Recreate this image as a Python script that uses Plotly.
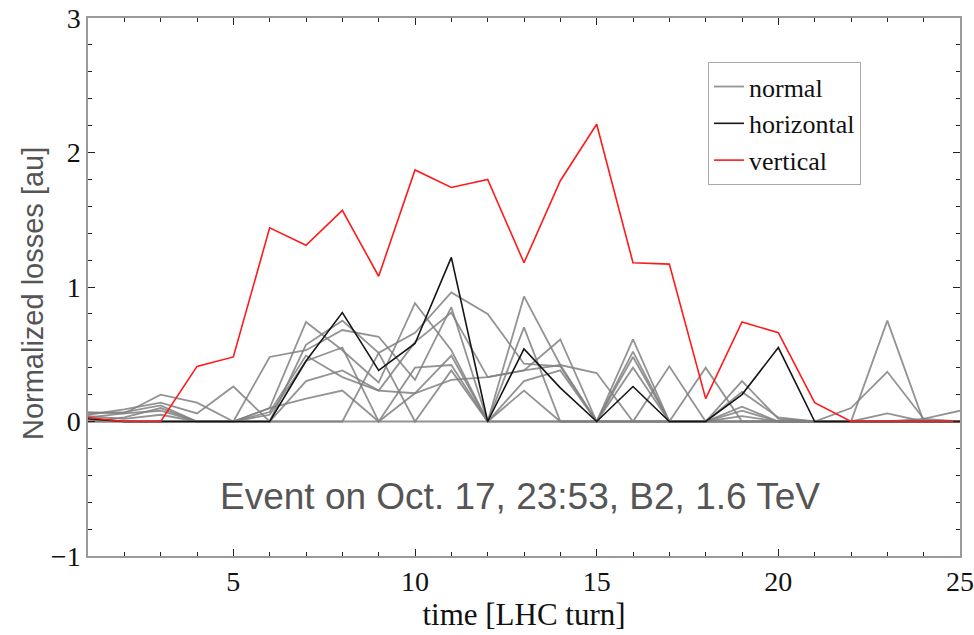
import plotly.graph_objects as go

turns = list(range(1, 26))

normal_series = [
    [0.07, 0.06, 0.20, 0.14, 0.00, 0.10, 0.74, 0.53, 0.29, 0.88, 0.53, 0.00, 0.93, 0.42, 0.00, 0.61, 0.00, 0.40, 0.00, 0.00, 0.00, 0.00, 0.75, 0.00, 0.00],
    [0.05, 0.09, 0.14, 0.06, 0.26, 0.00, 0.57, 0.75, 0.51, 0.66, 0.96, 0.80, 0.43, 0.41, 0.00, 0.00, 0.41, 0.00, 0.30, 0.02, 0.00, 0.10, 0.37, 0.02, 0.08],
    [0.06, 0.07, 0.12, 0.00, 0.00, 0.48, 0.53, 0.68, 0.63, 0.31, 0.85, 0.00, 0.70, 0.00, 0.00, 0.52, 0.00, 0.00, 0.22, 0.03, 0.00, 0.00, 0.06, 0.00, 0.00],
    [0.03, 0.06, 0.08, 0.00, 0.00, 0.07, 0.49, 0.33, 0.23, 0.59, 0.81, 0.33, 0.38, 0.61, 0.00, 0.48, 0.00, 0.00, 0.11, 0.00, 0.00, 0.00, 0.00, 0.02, 0.00],
    [0.00, 0.03, 0.10, 0.00, 0.00, 0.10, 0.17, 0.23, 0.00, 0.21, 0.49, 0.00, 0.23, 0.00, 0.00, 0.40, 0.00, 0.00, 0.08, 0.00, 0.00, 0.00, 0.00, 0.00, 0.00],
    [0.04, 0.02, 0.05, 0.00, 0.00, 0.05, 0.45, 0.55, 0.00, 0.40, 0.42, 0.00, 0.30, 0.38, 0.00, 0.00, 0.00, 0.00, 0.04, 0.00, 0.00, 0.00, 0.00, 0.00, 0.00],
    [0.02, 0.00, 0.00, 0.00, 0.00, 0.00, 0.30, 0.38, 0.23, 0.21, 0.31, 0.33, 0.38, 0.42, 0.36, 0.00, 0.00, 0.00, 0.00, 0.00, 0.00, 0.00, 0.00, 0.00, 0.00],
    [0.00, 0.00, 0.00, 0.00, 0.00, 0.00, 0.00, 0.00, 0.51, 0.00, 0.38, 0.00, 0.00, 0.00, 0.00, 0.00, 0.00, 0.00, 0.00, 0.00, 0.00, 0.00, 0.00, 0.00, 0.00],
    [0.00, 0.00, 0.00, 0.00, 0.00, 0.00, 0.00, 0.00, 0.00, 0.00, 0.00, 0.00, 0.00, 0.00, 0.00, 0.00, 0.00, 0.00, 0.00, 0.00, 0.00, 0.00, 0.00, 0.00, 0.00],
]

horizontal = [0.02, 0.00, 0.00, 0.00, 0.00, 0.00, 0.45, 0.81, 0.38, 0.58, 1.22, 0.00, 0.54, 0.25, 0.00, 0.26, 0.00, 0.00, 0.20, 0.55, 0.00, 0.00, 0.00, 0.00, 0.00]

vertical = [0.03, 0.00, 0.00, 0.41, 0.48, 1.44, 1.31, 1.57, 1.08, 1.87, 1.74, 1.80, 1.18, 1.79, 2.21, 1.18, 1.17, 0.17, 0.74, 0.66, 0.14, 0.00, 0.00, 0.00, 0.00]

x_ticks = [5, 10, 15, 20, 25]
y_ticks = [-1, 0, 1, 2, 3]
y_tick_text = ["\u22121", "0", "1", "2", "3"]

fig = go.Figure()

for i, s in enumerate(normal_series):
    fig.add_trace(go.Scatter(
        x=turns, y=s, mode="lines", name="normal",
        legendgroup="normal", showlegend=(i == 0),
        line=dict(color="rgba(128,128,128,0.85)", width=1.8),
    ))

fig.add_trace(go.Scatter(
    x=turns, y=horizontal, mode="lines", name="horizontal",
    line=dict(color="#151515", width=1.6),
))
fig.add_trace(go.Scatter(
    x=turns, y=vertical, mode="lines", name="vertical",
    line=dict(color="#ff1a1a", width=1.6),
))

fig.add_annotation(
    x=12.9, y=-0.56, xref="x", yref="y",
    text="Event on Oct. 17, 23:53, B2, 1.6 TeV",
    showarrow=False,
    font=dict(family="Liberation Sans, Arial, sans-serif", size=37, color="#555555"),
)

fig.add_annotation(
    x=-0.063, y=0.487, xref="paper", yref="paper",
    xanchor="center", yanchor="middle", textangle=-90,
    text="Normalized losses [au]", showarrow=False,
    font=dict(family="Liberation Sans, Arial, sans-serif", size=29, color="#555555"),
)

axis_common = dict(
    showline=True, linecolor="#9a9a9a", linewidth=1.5, mirror="ticks",
    showgrid=False, zeroline=False, automargin=False,
    ticks="inside", ticklen=7, tickwidth=1, tickcolor="#222222",
    ticklabeloverflow="allow",
    tickfont=dict(family="Liberation Serif, Times New Roman, serif", size=28, color="#111111"),
)

fig.update_layout(
    width=974, height=635,
    margin=dict(l=88, r=14, t=18, b=79, autoexpand=False),
    paper_bgcolor="white", plot_bgcolor="white",
    xaxis=dict(
        range=[1, 25], tickvals=x_ticks,
        minor=dict(dtick=1, tick0=0, ticks="inside", ticklen=4, tickcolor="#222222"),
        title=dict(text="time [LHC turn]", standoff=2,
                   font=dict(family="Liberation Serif, Times New Roman, serif", size=31, color="#111111")),
        **axis_common,
    ),
    yaxis=dict(
        range=[-1, 3], tickvals=y_ticks, ticktext=y_tick_text,
        minor=dict(dtick=0.2, tick0=0, ticks="inside", ticklen=4, tickcolor="#222222"),
        **axis_common,
    ),
    legend=dict(
        x=0.711, y=0.918, xanchor="left", yanchor="top",
        bgcolor="white", bordercolor="#aaaaaa", borderwidth=1,
        font=dict(family="Liberation Serif, Times New Roman, serif", size=26, color="#111111"),
        itemwidth=30, tracegroupgap=0,
    ),
)

fig.write_html("out.html", config={"displayModeBar": False},
               post_script="document.body.style.margin='0';")
